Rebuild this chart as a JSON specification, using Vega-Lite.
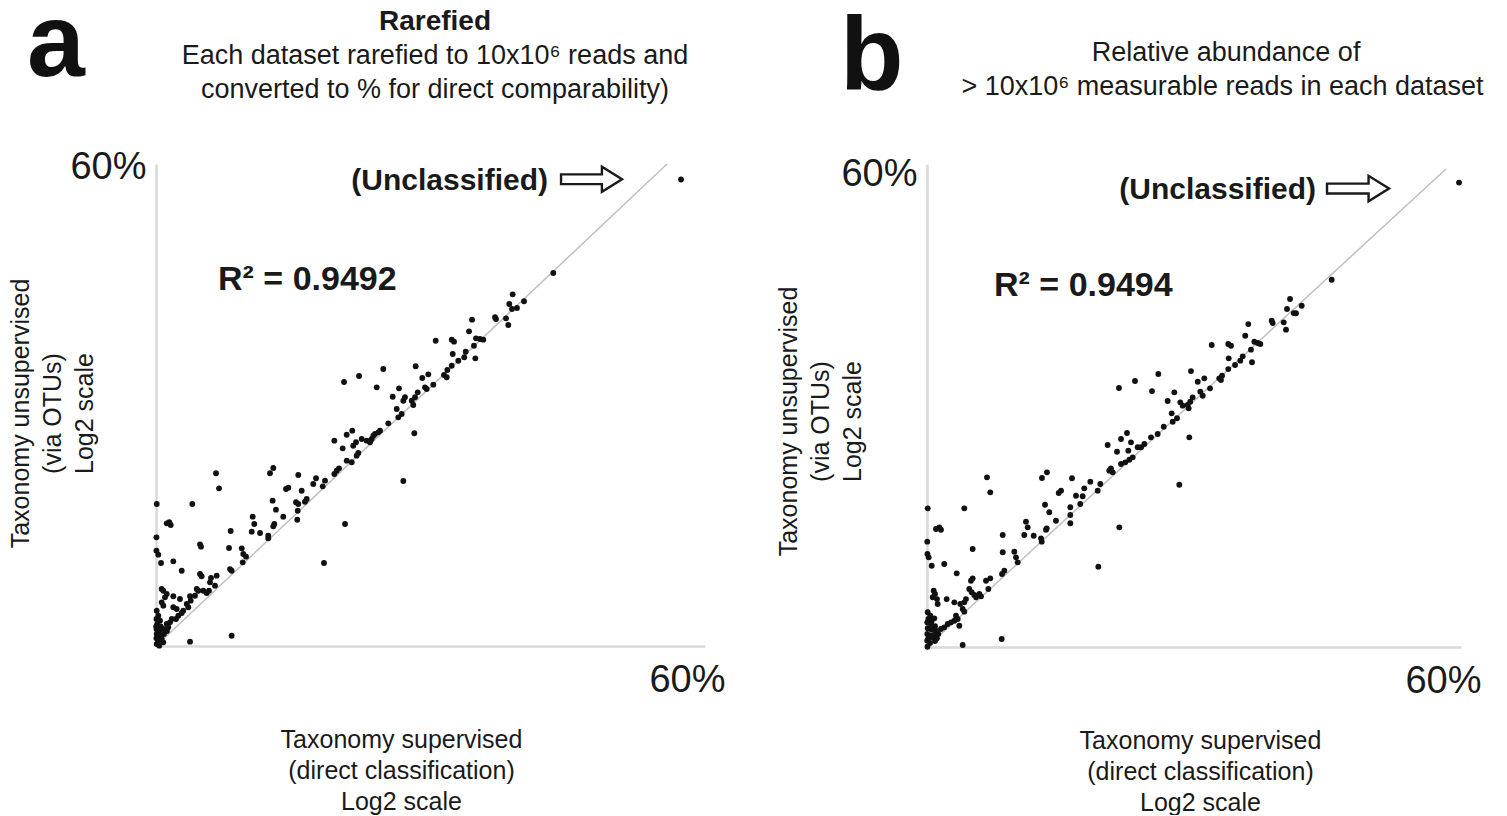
{
  "$schema": "https://vega.github.io/schema/vega-lite/v6.json",
  "background": "white",
  "padding": {"left": 8, "top": -7, "right": 0, "bottom": 0},
  "spacing": 51,
  "config": {
    "font": "Liberation Sans",
    "view": {"stroke": null},
    "text": {"font": "Liberation Sans", "color": "#1a1a1a"},
    "axis": {
      "grid": false, "ticks": false, "domainColor": "#d9d9d9", "domainWidth": 2.5,
      "labelFont": "Liberation Sans", "labelFontSize": 38, "labelColor": "#1a1a1a", "labelFlush": false,
      "titleFont": "Liberation Sans", "titleFontSize": 25, "titleFontWeight": "normal", "titleColor": "#1a1a1a",
      "titleLineHeight": 31, "titleAlign": "center", "titleBaseline": "top"
    }
  },
  "datasets": {
    "fitA": [{"s": 0, "u": 0}, {"s": 55.85, "u": 60}],
    "fitB": [{"s": 0, "u": 0}, {"s": 58.31, "u": 60}],
    "rarefied": [
      {"s":57.38,"u":58.07},{"s":43.42,"u":46.43},{"s":38.98,"u":43.78},{"s":38.61,"u":42.57},{"s":38.91,"u":41.95},{"s":39.45,"u":42.07},{"s":40.22,"u":42.91},{"s":37.05,"u":40.92},{"s":37.16,"u":40.70},{"s":38.25,"u":40.79},
      {"s":38.50,"u":39.96},{"s":34.54,"u":40.62},{"s":34.21,"u":39.17},{"s":34.97,"u":38.30},{"s":35.41,"u":38.22},{"s":35.77,"u":38.13},{"s":34.75,"u":37.38},{"s":34.90,"u":35.81},{"s":33.85,"u":36.63},{"s":33.69,"u":35.94},
      {"s":33.04,"u":35.51},{"s":32.43,"u":36.35},{"s":32.32,"u":38.13},{"s":32.57,"u":37.88},{"s":30.57,"u":38.00},{"s":32.32,"u":34.89},{"s":31.84,"u":34.36},{"s":31.48,"u":33.73},{"s":31.77,"u":33.45},{"s":30.31,"u":32.53},
      {"s":29.76,"u":33.82},{"s":29.10,"u":33.36},{"s":29.40,"u":32.20},{"s":29.58,"u":31.99},{"s":28.38,"u":34.82},{"s":28.60,"u":31.58},{"s":28.31,"u":30.96},{"s":27.95,"u":30.53},{"s":28.12,"u":30.00},{"s":27.21,"u":30.96},
      {"s":27.03,"u":30.53},{"s":26.56,"u":32.08},{"s":25.87,"u":31.03},{"s":26.31,"u":29.50},{"s":26.85,"u":28.88},{"s":26.48,"u":28.47},{"s":24.84,"u":34.48},{"s":24.12,"u":32.20},{"s":25.39,"u":27.72},{"s":24.48,"u":26.80},
      {"s":23.93,"u":26.39},{"s":23.57,"u":25.77},{"s":28.23,"u":26.48},{"s":27.03,"u":20.54},{"s":20.55,"u":32.86},{"s":22.19,"u":33.61},{"s":20.66,"u":15.19},{"s":18.36,"u":10.33},{"s":8.27,"u":1.28},{"s":3.72,"u":0.54},
      {"s":6.56,"u":21.50},{"s":6.89,"u":19.63},{"s":12.82,"u":22.16},{"s":12.46,"u":21.50},{"s":15.55,"u":21.29},{"s":14.21,"u":19.54},{"s":14.46,"u":19.71},{"s":12.75,"u":18.09},{"s":15.92,"u":19.33},{"s":15.30,"u":17.89},
      {"s":15.55,"u":17.68},{"s":16.28,"u":17.96},{"s":16.47,"u":18.30},{"s":17.19,"u":20.17},{"s":17.49,"u":20.88},{"s":18.22,"u":19.88},{"s":18.47,"u":20.58},{"s":13.11,"u":16.97},{"s":13.91,"u":16.10},{"s":15.49,"u":16.84},
      {"s":15.44,"u":15.72},{"s":10.57,"u":16.10},{"s":10.74,"u":15.19},{"s":10.46,"u":14.23},{"s":11.37,"u":14.07},{"s":12.27,"u":13.73},{"s":12.27,"u":13.41},{"s":12.93,"u":15.19},{"s":12.82,"u":14.90},{"s":8.16,"u":14.32},
      {"s":7.98,"u":12.20},{"s":9.37,"u":12.16},{"s":9.54,"u":11.45},{"s":9.84,"u":11.12},{"s":9.48,"u":10.42},{"s":8.09,"u":9.58},{"s":8.27,"u":9.37},{"s":19.49,"u":25.56},{"s":20.40,"u":24.61},{"s":20.84,"u":26.30},
      {"s":21.45,"u":26.80},{"s":20.00,"u":22.12},{"s":19.75,"u":21.82},{"s":19.49,"u":21.41},{"s":20.84,"u":23.07},{"s":21.39,"u":22.87},{"s":21.93,"u":23.69},{"s":22.11,"u":24.02},{"s":21.56,"u":24.93},{"s":21.86,"u":25.36},
      {"s":22.48,"u":25.77},{"s":23.03,"u":25.56},{"s":23.39,"u":25.36},{"s":23.75,"u":26.18},{"s":24.30,"u":26.60},
      {"s":0.08,"u":17.68},{"s":3.97,"u":17.68},{"s":1.17,"u":15.27},{"s":1.45,"u":15.40},{"s":1.61,"u":15.06},{"s":0.05,"u":13.53},{"s":0.05,"u":11.86},{"s":0.25,"u":11.37},{"s":0.55,"u":10.33},{"s":1.89,"u":10.54},
      {"s":2.81,"u":9.37},{"s":4.81,"u":12.66},{"s":4.92,"u":12.36},{"s":4.81,"u":8.96},{"s":4.99,"u":8.68},{"s":6.01,"u":8.46},{"s":5.90,"u":7.93},{"s":6.63,"u":8.75},{"s":6.45,"u":7.51},{"s":4.45,"u":7.10},
      {"s":4.62,"u":6.88},{"s":5.17,"u":6.88},{"s":5.54,"u":6.60},{"s":5.79,"u":6.88},{"s":3.72,"u":6.19},{"s":3.79,"u":5.64},{"s":4.26,"u":6.26},{"s":2.62,"u":5.85},{"s":1.89,"u":6.19},{"s":0.62,"u":7.10},
      {"s":0.80,"u":6.88},{"s":1.17,"u":6.47},{"s":0.98,"u":6.06},{"s":0.62,"u":5.44},{"s":0.80,"u":5.02},{"s":3.36,"u":5.23},{"s":3.53,"u":4.82},{"s":2.98,"u":4.39},{"s":2.81,"u":4.11},{"s":2.44,"u":3.77},
      {"s":2.19,"u":3.36},{"s":1.72,"u":3.36},{"s":1.53,"u":2.95},{"s":1.17,"u":2.74},{"s":1.34,"u":2.33},{"s":1.89,"u":4.82},{"s":2.26,"u":4.61},
      {"s":0.08,"u":4.39},{"s":0.25,"u":3.77},{"s":0.05,"u":3.36},{"s":0.44,"u":3.15},{"s":0.14,"u":2.74},{"s":0.51,"u":2.45},{"s":0.05,"u":2.12},{"s":0.36,"u":1.90},{"s":0.80,"u":2.12},{"s":0.08,"u":1.49},
      {"s":0.44,"u":1.28},{"s":0.87,"u":1.49},{"s":0.05,"u":0.96},{"s":0.25,"u":0.66},{"s":0.62,"u":0.87},{"s":0.08,"u":0.25},{"s":0.36,"u":0.04},{"s":0.80,"u":0.46},{"s":0.02,"u":2.45},{"s":1.20,"u":1.87}
    ],
    "relative": [
      {"s":59.78,"u":58.30},{"s":45.47,"u":46.10},{"s":40.79,"u":43.68},{"s":40.45,"u":42.43},{"s":41.20,"u":41.92},{"s":41.46,"u":41.89},{"s":42.10,"u":42.84},{"s":38.73,"u":40.96},{"s":38.84,"u":40.67},{"s":40.08,"u":40.76},
      {"s":40.34,"u":39.83},{"s":36.10,"u":40.54},{"s":35.76,"u":39.07},{"s":36.78,"u":38.32},{"s":37.16,"u":38.16},{"s":37.45,"u":38.03},{"s":36.40,"u":37.32},{"s":36.52,"u":35.74},{"s":35.47,"u":36.49},{"s":35.20,"u":35.94},
      {"s":34.61,"u":35.40},{"s":33.85,"u":34.89},{"s":33.90,"u":36.24},{"s":33.85,"u":38.03},{"s":34.16,"u":37.82},{"s":31.99,"u":37.91},{"s":33.15,"u":34.05},{"s":33.03,"u":33.51},{"s":32.84,"u":33.73},{"s":31.80,"u":32.47},
      {"s":31.16,"u":33.73},{"s":30.42,"u":33.30},{"s":30.71,"u":32.05},{"s":30.98,"u":31.54},{"s":29.66,"u":34.64},{"s":29.85,"u":31.34},{"s":29.58,"u":30.79},{"s":29.29,"u":30.38},{"s":29.40,"u":29.96},{"s":28.46,"u":30.71},
      {"s":28.73,"u":30.29},{"s":27.79,"u":31.97},{"s":27.04,"u":30.88},{"s":27.49,"u":29.33},{"s":27.61,"u":28.28},{"s":28.09,"u":28.71},{"s":25.99,"u":34.27},{"s":25.28,"u":32.13},{"s":26.60,"u":27.65},{"s":25.92,"u":26.74},
      {"s":25.17,"u":26.32},{"s":24.42,"u":25.48},{"s":24.05,"u":25.07},{"s":29.47,"u":26.32},{"s":28.35,"u":20.37},{"s":21.57,"u":32.51},{"s":23.37,"u":33.39},{"s":21.61,"u":15.02},{"s":19.25,"u":10.08},{"s":8.39,"u":1.00},
      {"s":4.01,"u":0.25},{"s":0.05,"u":0.03},{"s":6.74,"u":21.30},{"s":7.11,"u":19.42},{"s":12.92,"u":21.21},{"s":13.48,"u":21.93},{"s":16.29,"u":21.18},{"s":14.80,"u":19.33},{"s":15.06,"u":19.62},{"s":13.26,"u":17.86},
      {"s":13.74,"u":16.91},{"s":16.10,"u":17.54},{"s":16.10,"u":16.57},{"s":16.10,"u":15.53},{"s":16.74,"u":18.99},{"s":17.22,"u":17.95},{"s":17.49,"u":18.92},{"s":17.67,"u":19.92},{"s":18.35,"u":20.75},{"s":19.18,"u":19.62},
      {"s":19.47,"u":20.46},{"s":14.49,"u":15.85},{"s":11.12,"u":15.73},{"s":11.31,"u":15.02},{"s":10.93,"u":14.06},{"s":11.99,"u":13.97},{"s":12.81,"u":13.64},{"s":12.89,"u":13.22},{"s":13.45,"u":14.90},{"s":13.37,"u":14.72},
      {"s":8.51,"u":14.06},{"s":8.51,"u":11.89},{"s":9.81,"u":11.96},{"s":10.00,"u":11.26},{"s":10.19,"u":10.63},{"s":8.69,"u":9.58},{"s":8.43,"u":9.16},{"s":20.30,"u":25.36},{"s":20.48,"u":22.13},{"s":20.67,"u":22.43},
      {"s":20.87,"u":21.93},{"s":21.35,"u":24.51},{"s":21.80,"u":26.11},{"s":22.47,"u":26.86},{"s":21.80,"u":22.97},{"s":22.28,"u":23.18},{"s":22.73,"u":23.51},{"s":23.11,"u":23.81},{"s":22.62,"u":24.64},{"s":22.92,"u":25.69},
      {"s":23.67,"u":25.07},
      {"s":0.08,"u":17.41},{"s":4.19,"u":17.41},{"s":1.01,"u":14.81},{"s":1.38,"u":15.02},{"s":1.57,"u":14.72},{"s":0.03,"u":13.22},{"s":0.05,"u":11.67},{"s":0.19,"u":11.26},{"s":0.53,"u":10.20},{"s":1.94,"u":10.42},
      {"s":3.34,"u":9.25},{"s":5.13,"u":12.30},{"s":5.13,"u":8.62},{"s":4.94,"u":8.32},{"s":6.63,"u":8.32},{"s":7.11,"u":8.62},{"s":6.89,"u":7.28},{"s":4.75,"u":7.28},{"s":5.02,"u":6.87},{"s":5.31,"u":6.53},
      {"s":5.51,"u":6.24},{"s":5.88,"u":6.65},{"s":6.07,"u":6.36},{"s":4.38,"u":6.02},{"s":4.19,"u":5.61},{"s":3.74,"u":5.40},{"s":4.01,"u":4.77},{"s":4.19,"u":4.43},{"s":3.07,"u":5.61},{"s":2.21,"u":6.02},
      {"s":0.75,"u":7.07},{"s":0.90,"u":6.65},{"s":0.64,"u":6.24},{"s":1.12,"u":6.02},{"s":1.20,"u":5.40},{"s":3.26,"u":3.93},{"s":3.45,"u":3.51},{"s":3.07,"u":3.30},{"s":2.70,"u":3.10},{"s":2.33,"u":2.89},
      {"s":1.94,"u":2.47},{"s":1.57,"u":2.26},{"s":3.63,"u":2.67},
      {"s":0.08,"u":4.36},{"s":0.37,"u":3.93},{"s":0.15,"u":3.51},{"s":0.53,"u":3.30},{"s":0.82,"u":3.60},{"s":0.03,"u":3.10},{"s":0.45,"u":2.89},{"s":0.90,"u":2.60},{"s":0.08,"u":2.35},{"s":0.53,"u":2.17},
      {"s":1.01,"u":2.05},{"s":0.03,"u":1.63},{"s":0.37,"u":1.42},{"s":0.82,"u":1.51},{"s":1.27,"u":1.63},{"s":0.15,"u":1.09},{"s":0.64,"u":1.22},{"s":1.12,"u":1.09},{"s":0.02,"u":0.79},{"s":0.34,"u":0.50},
      {"s":0.90,"u":0.75}
    ]
  },
  "hconcat": [
    {
      "width": 549,
      "height": 482,
      "layer": [
        {
          "data": {"name": "fitA"},
          "mark": {"type": "line", "color": "#bfbfbf", "strokeWidth": 1.5},
          "encoding": {
            "x": {"field": "s", "type": "quantitative", "scale": {"domain": [0, 60], "nice": false},
              "axis": {"title": ["Taxonomy supervised", "(direct classification)", "Log2 scale"], "values": [60], "labelExpr": "datum.value + '%'",
                "labelAlign": "right", "labelOffset": 20, "labelPadding": 15, "titleX": 245, "titleY": 81}},
            "y": {"field": "u", "type": "quantitative", "scale": {"domain": [0, 60], "nice": false},
              "axis": {"title": ["Taxonomy unsupervised", "(via OTUs)", "Log2 scale"], "values": [60], "labelExpr": "datum.value + '%'",
                "labelPadding": 10, "labelBaseline": "middle", "labelOffset": 3, "titleAngle": 270, "titleX": -148, "titleY": 249, "titleLineHeight": 32}}
          }
        },
        {
          "data": {"name": "rarefied"},
          "mark": {"type": "circle", "size": 34, "color": "#111111", "opacity": 1},
          "encoding": {"x": {"field": "s", "type": "quantitative"}, "y": {"field": "u", "type": "quantitative"}}
        },
        {
          "data": {"values": [{}]},
          "mark": {"type": "text", "text": "Rarefied", "fontSize": 28, "fontWeight": "bold", "align": "center", "baseline": "middle"},
          "encoding": {"x": {"datum": 30.49}, "y": {"datum": 77.68}}
        },
        {
          "data": {"values": [{}]},
          "mark": {"type": "text", "text": "Each dataset rarefied to 10x10⁶ reads and", "fontSize": 27, "align": "center", "baseline": "middle"},
          "encoding": {"x": {"datum": 30.49}, "y": {"datum": 73.45}}
        },
        {
          "data": {"values": [{}]},
          "mark": {"type": "text", "text": "converted to % for direct comparability)", "fontSize": 27, "align": "center", "baseline": "middle"},
          "encoding": {"x": {"datum": 30.49}, "y": {"datum": 69.21}}
        },
        {
          "data": {"values": [{}]},
          "mark": {"type": "text", "text": "R² = 0.9492", "fontSize": 34, "fontWeight": "bold", "align": "left", "baseline": "middle"},
          "encoding": {"x": {"datum": 6.78}, "y": {"datum": 45.6}}
        },
        {
          "data": {"values": [{}]},
          "mark": {"type": "text", "text": "(Unclassified)", "fontSize": 30, "fontWeight": "bold", "align": "right", "baseline": "middle"},
          "encoding": {"x": {"datum": 42.84}, "y": {"datum": 57.88}}
        },
        {
          "data": {"values": [{}]},
          "mark": {"type": "point", "shape": "M-1,-0.16L0.34,-0.16L0.34,-0.41L1,0L0.34,0.41L0.34,0.16L-1,0.16Z", "size": 3721, "filled": true, "fill": "white", "stroke": "#1a1a1a", "strokeWidth": 2.4, "opacity": 1},
          "encoding": {"x": {"datum": 47.6}, "y": {"datum": 58.1}}
        },
        {
          "data": {"values": [{}]},
          "mark": {"type": "text", "text": "a", "fontSize": 104, "fontWeight": "bold", "align": "left", "baseline": "alphabetic", "color": "#111111"},
          "encoding": {"x": {"datum": -14.1}, "y": {"datum": 70.95}}
        }
      ]
    },
    {
      "width": 534,
      "height": 483,
      "layer": [
        {
          "data": {"name": "fitB"},
          "mark": {"type": "line", "color": "#bfbfbf", "strokeWidth": 1.5},
          "encoding": {
            "x": {"field": "s", "type": "quantitative", "scale": {"domain": [0, 60], "nice": false},
              "axis": {"title": ["Taxonomy supervised", "(direct classification)", "Log2 scale"], "values": [60], "labelExpr": "datum.value + '%'",
                "labelAlign": "right", "labelOffset": 20, "labelPadding": 15, "titleX": 273, "titleY": 81}},
            "y": {"field": "u", "type": "quantitative", "scale": {"domain": [0, 60.63], "nice": false},
              "axis": {"title": ["Taxonomy unsupervised", "(via OTUs)", "Log2 scale"], "values": [60], "labelExpr": "datum.value + '%'",
                "labelPadding": 10, "labelBaseline": "middle", "labelOffset": 5, "titleAngle": 270, "titleX": -151, "titleY": 257, "titleLineHeight": 32}}
          }
        },
        {
          "data": {"name": "relative"},
          "mark": {"type": "circle", "size": 34, "color": "#111111", "opacity": 1},
          "encoding": {"x": {"field": "s", "type": "quantitative"}, "y": {"field": "u", "type": "quantitative"}}
        },
        {
          "data": {"values": [{}]},
          "mark": {"type": "text", "text": "Relative abundance of", "fontSize": 27, "align": "center", "baseline": "middle"},
          "encoding": {"x": {"datum": 33.6}, "y": {"datum": 74.56}}
        },
        {
          "data": {"values": [{}]},
          "mark": {"type": "text", "text": "> 10x10⁶ measurable reads in each dataset", "fontSize": 27, "align": "center", "baseline": "middle"},
          "encoding": {"x": {"datum": 33.2}, "y": {"datum": 70.29}}
        },
        {
          "data": {"values": [{}]},
          "mark": {"type": "text", "text": "R² = 0.9494", "fontSize": 34, "fontWeight": "bold", "align": "left", "baseline": "middle"},
          "encoding": {"x": {"datum": 7.53}, "y": {"datum": 45.3}}
        },
        {
          "data": {"values": [{}]},
          "mark": {"type": "text", "text": "(Unclassified)", "fontSize": 30, "fontWeight": "bold", "align": "right", "baseline": "middle"},
          "encoding": {"x": {"datum": 43.71}, "y": {"datum": 57.4}}
        },
        {
          "data": {"values": [{}]},
          "mark": {"type": "point", "shape": "M-1,-0.16L0.34,-0.16L0.34,-0.41L1,0L0.34,0.41L0.34,0.16L-1,0.16Z", "size": 3844, "filled": true, "fill": "white", "stroke": "#1a1a1a", "strokeWidth": 2.4, "opacity": 1},
          "encoding": {"x": {"datum": 48.43}, "y": {"datum": 57.55}}
        },
        {
          "data": {"values": [{}]},
          "mark": {"type": "text", "text": "b", "fontSize": 104, "fontWeight": "bold", "align": "left", "baseline": "alphabetic", "color": "#111111"},
          "encoding": {"x": {"datum": -9.78}, "y": {"datum": 70.04}}
        }
      ]
    }
  ]
}
